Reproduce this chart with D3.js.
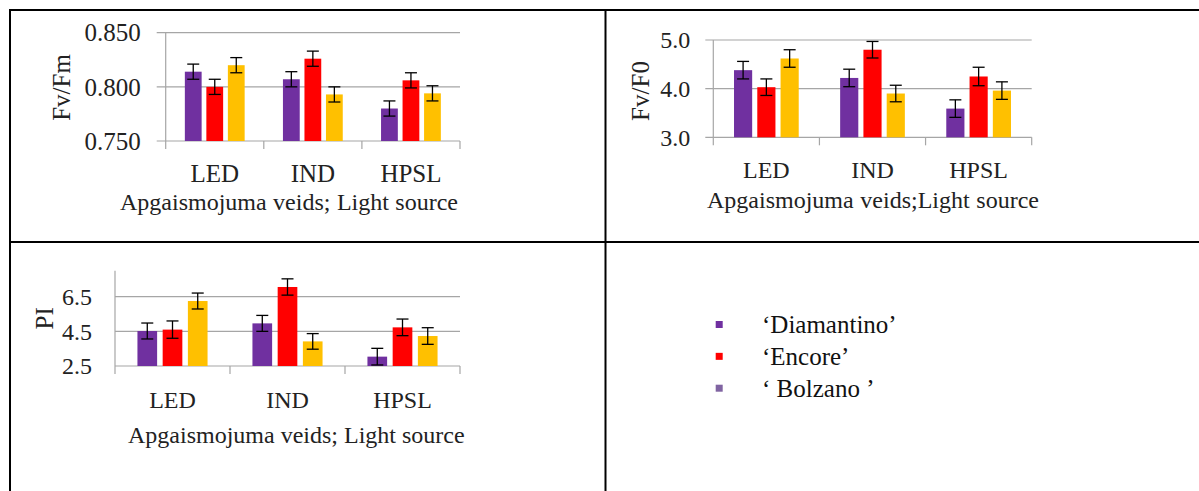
<!DOCTYPE html>
<html>
<head>
<meta charset="utf-8">
<script src="https://cdn.jsdelivr.net/npm/d3@7"></script>
<style>
  html, body { margin: 0; padding: 0; background: #fff; }
</style>
</head>
<body>
<svg id="chart" width="1199" height="491"></svg>
<script>
// ---------- DATA ----------
const categories = ["LED", "IND", "HPSL"];
const seriesNames = ["\u2018Diamantino\u2019", "\u2018Encore\u2019", "\u2018 Bolzano \u2019"];
const seriesColors = ["#7030A0", "#FF0000", "#FFC000"];
const legendColors = ["#7030A0", "#FF0000", "#8064A2"];

// Fv/Fm
const fvfmDiamantino = [0.814, 0.807, 0.780];
const fvfmEncore     = [0.800, 0.826, 0.806];
const fvfmBolzano    = [0.820, 0.793, 0.794];
const fvfmErrDiamantino = [0.007, 0.007, 0.007];
const fvfmErrEncore     = [0.007, 0.007, 0.007];
const fvfmErrBolzano    = [0.007, 0.007, 0.007];
const fvfmTicks = [0.750, 0.800, 0.850];

// Fv/F0
const fvf0Diamantino = [4.38, 4.22, 3.59];
const fvf0Encore     = [4.03, 4.80, 4.25];
const fvf0Bolzano    = [4.62, 3.90, 3.96];
const fvf0ErrDiamantino = [0.18, 0.18, 0.18];
const fvf0ErrEncore     = [0.17, 0.17, 0.19];
const fvf0ErrBolzano    = [0.18, 0.17, 0.18];
const fvf0Ticks = [3.0, 4.0, 5.0];

// PI
const piDiamantino = [4.52, 4.96, 3.04];
const piEncore     = [4.60, 7.06, 4.73];
const piBolzano    = [6.25, 3.92, 4.23];
const piErrDiamantino = [0.46, 0.46, 0.48];
const piErrEncore     = [0.50, 0.47, 0.48];
const piErrBolzano    = [0.46, 0.45, 0.48];
const piTicks = [2.5, 4.5, 6.5];

// ---------- DRAW ----------
const FONT = "Liberation Serif";
const svg = d3.select("#chart");

// table grid
const tbl = svg.append("g").attr("stroke", "#000").attr("stroke-width", 2);
tbl.append("line").attr("x1", 9).attr("x2", 1199).attr("y1", 10).attr("y2", 10);
tbl.append("line").attr("x1", 10).attr("x2", 10).attr("y1", 9).attr("y2", 491);
tbl.append("line").attr("x1", 605.5).attr("x2", 605.5).attr("y1", 9).attr("y2", 491);
tbl.append("line").attr("x1", 9).attr("x2", 1199).attr("y1", 242).attr("y2", 242);

function drawChart(cfg) {
  const g = svg.append("g");
  const x = d3.scaleBand().domain(categories).range([cfg.x0, cfg.x1]).padding(0);
  const xs = d3.scaleBand().domain(seriesNames).range([0, x.bandwidth()])
    .paddingInner(0.22).paddingOuter(0.89);
  const y = d3.scaleLinear().domain(cfg.domain).range([cfg.yBottom, cfg.yTop]);

  // gridlines
  g.selectAll(".grid").data(cfg.ticks).enter().append("line")
    .attr("x1", cfg.x0 - cfg.yTick).attr("x2", cfg.x1)
    .attr("y1", d => y(d)).attr("y2", d => y(d))
    .attr("stroke", "#a6a6a6").attr("stroke-width", 1.2);

  // y axis line
  g.append("line").attr("x1", cfg.x0).attr("x2", cfg.x0)
    .attr("y1", y(cfg.domain[1])).attr("y2", cfg.yBottom + 8)
    .attr("stroke", "#a6a6a6").attr("stroke-width", 1.2);

  // x category boundary ticks
  const bounds = categories.map(c => x(c)).concat([cfg.x1]);
  g.selectAll(".xt").data(bounds.slice(1)).enter().append("line")
    .attr("x1", d => d).attr("x2", d => d)
    .attr("y1", cfg.yBottom).attr("y2", cfg.yBottom + 8)
    .attr("stroke", "#a6a6a6").attr("stroke-width", 1.2);

  // bars
  cfg.series.forEach((vals, si) => {
    const name = seriesNames[si];
    const errs = cfg.errors[si];
    const sg = g.append("g");
    sg.selectAll("rect").data(vals).enter().append("rect")
      .attr("x", (d, i) => x(categories[i]) + xs(name))
      .attr("width", xs.bandwidth())
      .attr("y", d => y(d))
      .attr("height", d => cfg.yBottom - y(d))
      .attr("fill", seriesColors[si]);
    const eg = sg.selectAll(".err").data(vals).enter().append("g")
      .attr("stroke", "#000").attr("stroke-width", 1.3);
    const cx = i => x(categories[i]) + xs(name) + xs.bandwidth() / 2;
    eg.append("line")
      .attr("x1", (d, i) => cx(i)).attr("x2", (d, i) => cx(i))
      .attr("y1", (d, i) => y(d + errs[i])).attr("y2", (d, i) => y(d - errs[i]));
    eg.append("line")
      .attr("x1", (d, i) => cx(i) - 6).attr("x2", (d, i) => cx(i) + 6)
      .attr("y1", (d, i) => y(d + errs[i])).attr("y2", (d, i) => y(d + errs[i]));
    eg.append("line")
      .attr("x1", (d, i) => cx(i) - 6).attr("x2", (d, i) => cx(i) + 6)
      .attr("y1", (d, i) => y(d - errs[i])).attr("y2", (d, i) => y(d - errs[i]));
  });

  // y tick labels
  g.selectAll(".yl").data(cfg.ticks).enter().append("text")
    .attr("font-family", FONT)
    .attr("x", cfg.x0 - cfg.labelGap).attr("y", d => y(d)).attr("dy", "0.35em")
    .attr("text-anchor", "end").attr("font-size", cfg.tickFont).attr("fill", "#222")
    .text(d => d3.format(cfg.fmt)(d));

  // category labels
  g.selectAll(".cl").data(categories).enter().append("text")
    .attr("font-family", FONT)
    .attr("x", d => x(d) + x.bandwidth() / 2).attr("y", cfg.catY)
    .attr("text-anchor", "middle").attr("font-size", cfg.tickFont).attr("fill", "#222")
    .text(d => d);

  // y title
  g.append("text")
    .attr("font-family", FONT)
    .attr("transform", `translate(${cfg.yTitleX},${cfg.yTitleY}) rotate(-90)`)
    .attr("text-anchor", "middle").attr("font-size", 25).attr("fill", "#222")
    .text(cfg.yTitle);

  // x title (word spacing stretched to the measured width if needed)
  const xt = g.append("text")
    .attr("font-family", FONT)
    .attr("x", cfg.xTitleX).attr("y", cfg.xTitleY)
    .attr("font-size", cfg.xTitleFont).attr("fill", "#222")
    .text(cfg.xTitle);
  const nSpaces = (cfg.xTitle.match(/ /g) || []).length;
  const len = xt.node().getComputedTextLength();
  if (nSpaces > 0 && len < cfg.xTitleLen) {
    xt.attr("word-spacing", (cfg.xTitleLen - len) / nSpaces);
  }
}

drawChart({
  x0: 165.7, x1: 460, yTop: 32.7, yBottom: 141, domain: [0.750, 0.850],
  ticks: fvfmTicks, fmt: ".3f", yTick: 9, labelGap: 25, tickFont: 25,
  series: [fvfmDiamantino, fvfmEncore, fvfmBolzano],
  errors: [fvfmErrDiamantino, fvfmErrEncore, fvfmErrBolzano],
  catY: 181.5, yTitle: "Fv/Fm", yTitleX: 70, yTitleY: 87.5,
  xTitle: "Apgaismojuma veids; Light source", xTitleX: 120, xTitleY: 210,
  xTitleLen: 338, xTitleFont: 24
});

drawChart({
  x0: 713.3, x1: 1031.7, yTop: 40, yBottom: 137.3, domain: [3.0, 5.0],
  ticks: fvf0Ticks, fmt: ".1f", yTick: 8, labelGap: 23, tickFont: 24,
  series: [fvf0Diamantino, fvf0Encore, fvf0Bolzano],
  errors: [fvf0ErrDiamantino, fvf0ErrEncore, fvf0ErrBolzano],
  catY: 178.3, yTitle: "Fv/F0", yTitleX: 649, yTitleY: 91,
  xTitle: "Apgaismojuma veids;Light source", xTitleX: 707, xTitleY: 208.3,
  xTitleLen: 332, xTitleFont: 24
});

drawChart({
  x0: 115, x1: 460, yTop: 270.7, yBottom: 366, domain: [2.5, 8.0],
  ticks: piTicks, fmt: ".1f", yTick: 0, labelGap: 23, tickFont: 24,
  series: [piDiamantino, piEncore, piBolzano],
  errors: [piErrDiamantino, piErrEncore, piErrBolzano],
  catY: 408.3, yTitle: "PI", yTitleX: 53, yTitleY: 318.3,
  xTitle: "Apgaismojuma veids; Light source", xTitleX: 128, xTitleY: 443.3,
  xTitleLen: 335, xTitleFont: 24
});

// legend
const lg = svg.append("g");
const legendY = d3.scalePoint().domain(seriesNames).range([324.5, 388.2]);
const legendTextY = d3.scalePoint().domain(seriesNames).range([333.3, 397.3]);
lg.selectAll("rect").data(seriesNames).enter().append("rect")
  .attr("x", 715.7).attr("y", d => legendY(d) - 3.5).attr("width", 7).attr("height", 7)
  .attr("fill", (d, i) => legendColors[i]);
lg.selectAll("text").data(seriesNames).enter().append("text")
  .attr("font-family", FONT)
  .attr("x", 762).attr("y", d => legendTextY(d))
  .attr("font-size", 25).attr("fill", "#111")
  .text(d => d);
</script>
</body>
</html>
